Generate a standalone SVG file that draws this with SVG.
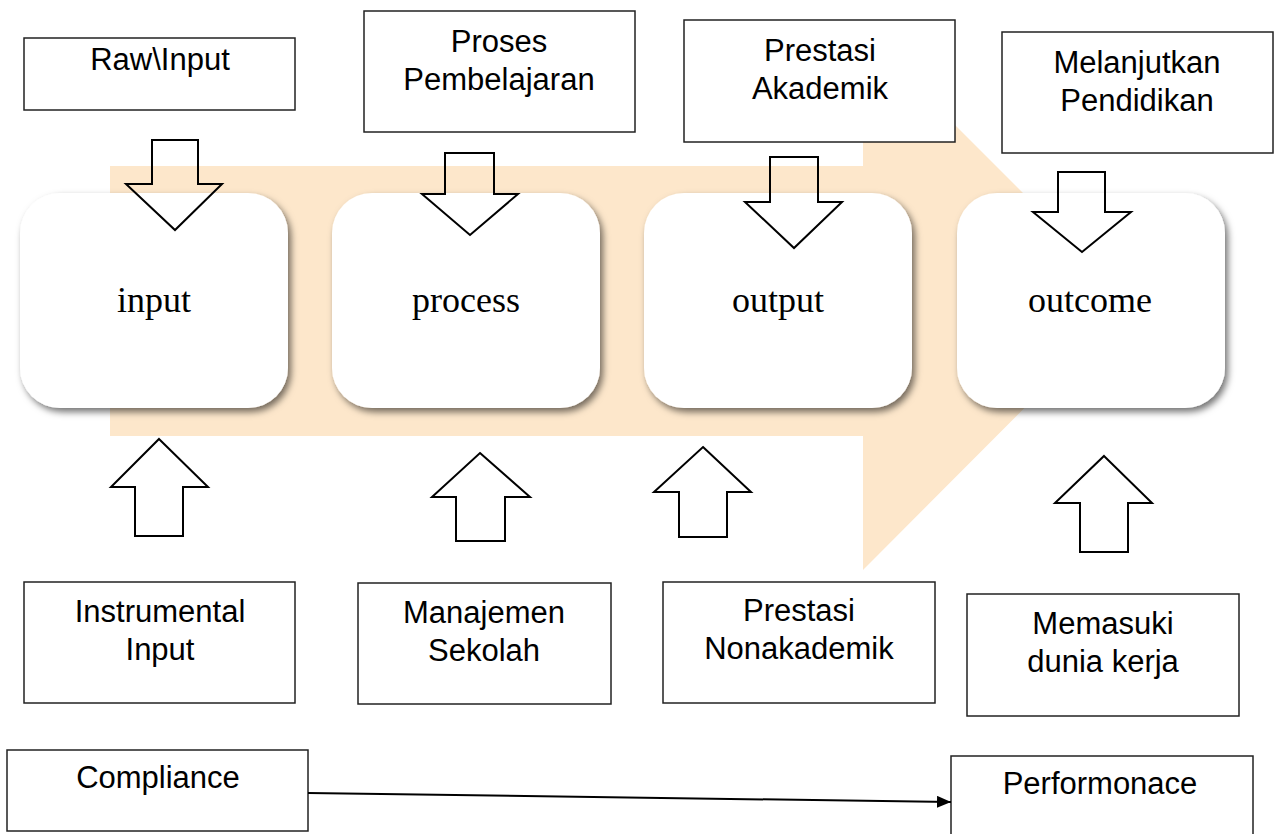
<svg xmlns="http://www.w3.org/2000/svg" width="1277" height="834" viewBox="0 0 1277 834">
<style>
.box{fill:#fff;stroke:#222;stroke-width:1.5}
.stage{fill:#fff;filter:url(#sh)}
.blk{fill:none;stroke:#000;stroke-width:2}
.t{font-family:"Liberation Sans",Arial,sans-serif;font-size:31px;fill:#000;text-anchor:middle}
.s{font-family:"Liberation Serif","Times New Roman",serif;font-size:36px;fill:#000;text-anchor:middle}
.conn{stroke:#000;stroke-width:2;fill:none}
</style>
<defs>
<filter id="sh" x="-10%" y="-10%" width="125%" height="125%">
<feDropShadow dx="3" dy="4" stdDeviation="3.5" flood-color="#000" flood-opacity="0.55"/>
</filter>
<marker id="ah" markerWidth="14" markerHeight="12" refX="14" refY="6" orient="auto" markerUnits="userSpaceOnUse">
<path d="M0,0 L14,6 L0,12 Z" fill="#000"/>
</marker>
</defs>
<rect width="1277" height="834" fill="#fff"/>
<g id="bigarrow">
<polygon points="110,166 863,166 863,33 1131,301 863,570 863,436 110,436" fill="#FDE7CB"/>
</g>
<g id="stage-input"><rect class="stage" x="20" y="193" width="268" height="215" rx="40"/><text class="s" x="154" y="312">input</text></g>
<g id="stage-process"><rect class="stage" x="332" y="193" width="268" height="215" rx="40"/><text class="s" x="466" y="312">process</text></g>
<g id="stage-output"><rect class="stage" x="644" y="193" width="268" height="215" rx="40"/><text class="s" x="778" y="312">output</text></g>
<g id="stage-outcome"><rect class="stage" x="957" y="193" width="268" height="215" rx="40"/><text class="s" x="1090" y="312">outcome</text></g>
<g id="raw-input"><rect class="box" x="24" y="38" width="271" height="72"/><text class="t" x="160" y="70">Raw\Input</text></g>
<g id="proses-pembelajaran"><rect class="box" x="364" y="11" width="271" height="121"/><text class="t" x="499" y="52">Proses</text><text class="t" x="499" y="90">Pembelajaran</text></g>
<g id="prestasi-akademik"><rect class="box" x="684" y="20" width="271" height="122"/><text class="t" x="820" y="61">Prestasi</text><text class="t" x="820" y="99">Akademik</text></g>
<g id="melanjutkan-pendidikan"><rect class="box" x="1002" y="32" width="271" height="121"/><text class="t" x="1137" y="73">Melanjutkan</text><text class="t" x="1137" y="111">Pendidikan</text></g>
<g id="instrumental-input"><rect class="box" x="24" y="582" width="271" height="121"/><text class="t" x="160" y="622">Instrumental</text><text class="t" x="160" y="660">Input</text></g>
<g id="manajemen-sekolah"><rect class="box" x="358" y="583" width="253" height="121"/><text class="t" x="484" y="623">Manajemen</text><text class="t" x="484" y="661">Sekolah</text></g>
<g id="prestasi-nonakademik"><rect class="box" x="663" y="582" width="272" height="121"/><text class="t" x="799" y="621">Prestasi</text><text class="t" x="799" y="659">Nonakademik</text></g>
<g id="memasuki-dunia-kerja"><rect class="box" x="967" y="594" width="272" height="122"/><text class="t" x="1103" y="634">Memasuki</text><text class="t" x="1103" y="672">dunia kerja</text></g>
<g id="compliance"><rect class="box" x="7" y="750" width="301" height="81"/><text class="t" x="158" y="788">Compliance</text></g>
<g id="performonace"><rect class="box" x="951" y="756" width="302" height="90"/><text class="t" x="1100" y="794">Performonace</text></g>
<g id="block-arrows">
<polygon class="blk" points="152,140 198,140 198,184 222,184 175,230 126,184 152,184"/>
<polygon class="blk" points="445,153 494,153 494,194 518,194 470,235 422,194 445,194"/>
<polygon class="blk" points="770,157 818,157 818,202 842,202 794,248 745,202 770,202"/>
<polygon class="blk" points="1058,172 1105,172 1105,212 1131,212 1082,252 1033,212 1058,212"/>
<polygon class="blk" points="159,439 208,487 183,487 183,536 135,536 135,487 111,487"/>
<polygon class="blk" points="480,453 530,497 505,497 505,541 456,541 456,497 432,497"/>
<polygon class="blk" points="703,447 751,492 727,492 727,537 679,537 679,492 654,492"/>
<polygon class="blk" points="1104,456 1152,503 1128,503 1128,552 1080,552 1080,503 1055,503"/>
</g>
<g id="connectors">
<line class="conn" x1="308" y1="793" x2="951" y2="802" marker-end="url(#ah)"/>
</g>
</svg>
